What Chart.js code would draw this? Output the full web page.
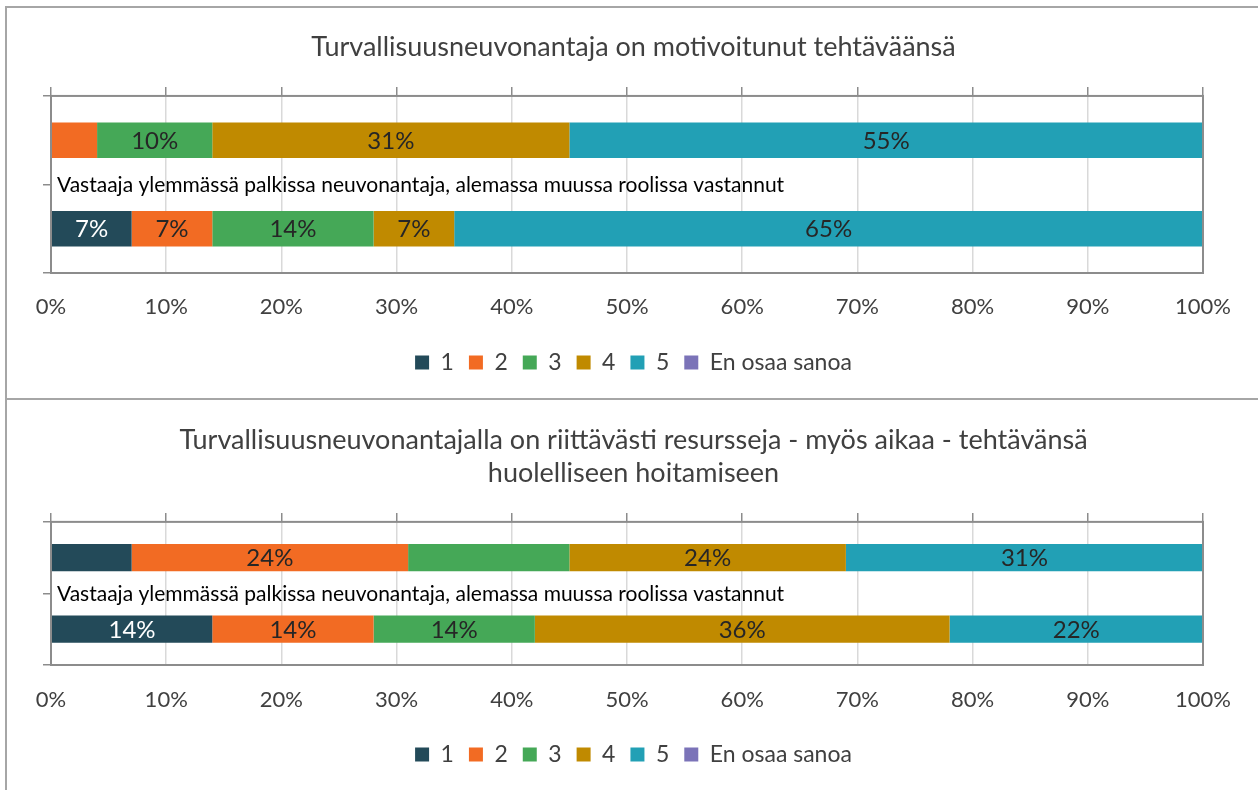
<!DOCTYPE html>
<html>
<head>
<meta charset="utf-8">
<script src="https://cdn.jsdelivr.net/npm/chart.js@4"></script>
<style>
  html, body { margin: 0; padding: 0; background: #fff; overflow: hidden; width: 1258px; height: 790px; }
  .frame { position: absolute; border-left: 2px solid #a6a6a6; border-top: 2px solid #a6a6a6; }
  canvas { position: absolute; left: 0; }
</style>
</head>
<body>
<div class="frame" style="left:5px; top:6px; width:1300px; height:392px;"></div>
<div class="frame" style="left:5px; top:398px; width:1300px; height:400px;"></div>
<canvas id="c1" width="1262" height="400" style="top:0px;"></canvas>
<canvas id="c2" width="1262" height="390" style="top:400px;"></canvas>
<script>
// ---- data ----
const categories = ['Neuvonantaja', 'Muussa roolissa'];
const seriesNames = ['1', '2', '3', '4', '5', 'En osaa sanoa'];
const tickLabels = ['0%', '10%', '20%', '30%', '40%', '50%', '60%', '70%', '80%', '90%', '100%'];
const noteText = 'Vastaaja ylemmässä palkissa neuvonantaja, alemassa muussa roolissa vastannut';

const title1 = 'Turvallisuusneuvonantaja on motivoitunut tehtäväänsä';
const chart1_s1 = [0, 7];
const chart1_s2 = [4, 7];
const chart1_s3 = [10, 14];
const chart1_s4 = [31, 7];
const chart1_s5 = [55, 65];
const chart1_eos = [0, 0];
const chart1_hiddenLabels = ['1:0'];

const title2 = ['Turvallisuusneuvonantajalla on riittävästi resursseja - myös aikaa - tehtävänsä', 'huolelliseen hoitamiseen'];
const chart2_s1 = [7, 14];
const chart2_s2 = [24, 14];
const chart2_s3 = [14, 14];
const chart2_s4 = [24, 36];
const chart2_s5 = [31, 22];
const chart2_eos = [0, 0];
const chart2_hiddenLabels = ['0:0', '2:0'];

// ---- style ----
const colors = ['#234A59', '#F26B23', '#45A857', '#C08A00', '#22A0B5', '#7B73B8'];
const FONT = 'Lato, Carlito, Calibri, "Open Sans", sans-serif';
const BORDER = '#8c8c8c';

const barLabels = {
  id: 'barLabels',
  afterDatasetsDraw(chart, args, opts) {
    const ctx = chart.ctx;
    const ca = chart.chartArea;
    ctx.save();
    // plot border
    ctx.strokeStyle = BORDER;
    ctx.lineWidth = 2;
    ctx.strokeRect(ca.left, ca.top, ca.right - ca.left, ca.bottom - ca.top);
    // value labels
    ctx.font = '24px ' + FONT;
    ctx.textAlign = 'center';
    ctx.textBaseline = 'middle';
    chart.data.datasets.forEach((ds, di) => {
      const meta = chart.getDatasetMeta(di);
      meta.data.forEach((bar, i) => {
        const v = ds.data[i];
        if (!v || opts.hidden.includes(di + ':' + i)) return;
        const p = bar.getProps(['x', 'y', 'base'], true);
        ctx.fillStyle = di === 0 ? '#ffffff' : '#262626';
        ctx.fillText(v + '%', (p.x + p.base) / 2, p.y + 1);
      });
    });
    // note between bars
    const ys = chart.scales.y;
    const yMid = (ys.getPixelForValue(0) + ys.getPixelForValue(1)) / 2;
    ctx.font = '21px ' + FONT;
    ctx.textAlign = 'left';
    ctx.fillStyle = '#000000';
    ctx.fillText(noteText, ca.left + 6, yMid + 1);
    ctx.restore();
  }
};

function makeChart(id, titleText, series, hidden, barPct, layoutCfg) {
  const datasets = series.map((data, i) => ({
    label: seriesNames[i],
    data: data,
    backgroundColor: colors[i],
    borderWidth: 0,
    xAxisID: 'x',
    yAxisID: 'y',
    barPercentage: barPct,
    categoryPercentage: 1.0
  }));
  return new Chart(document.getElementById(id), {
    type: 'bar',
    data: { labels: categories, datasets: datasets },
    plugins: [barLabels],
    options: {
      indexAxis: 'y',
      responsive: false,
      animation: false,
      devicePixelRatio: 1,
      layout: { padding: layoutCfg.padding },
      scales: {
        x: {
          type: 'linear', position: 'bottom', stacked: true, min: 0, max: 100,
          grid: { color: '#d9d9d9', lineWidth: 1.5, drawTicks: false },
          border: { display: false },
          ticks: {
            stepSize: 10, padding: layoutCfg.tickPad, color: '#404040',
            font: { family: FONT, size: 22 },
            callback: (v, idx) => tickLabels[idx]
          },
          afterFit: s => { s.height = layoutCfg.xHeight; }
        },
        x2: {
          type: 'linear', axis: 'x', position: 'top', min: 0, max: 100,
          grid: { color: BORDER, lineWidth: 1.5, drawOnChartArea: false, drawTicks: true, tickLength: 9 },
          border: { display: false },
          ticks: { stepSize: 10, display: false }
        },
        y: {
          type: 'category', position: 'left', stacked: true, offset: true,
          grid: { offset: true, color: BORDER, lineWidth: 1.5, drawOnChartArea: false, drawTicks: true, tickLength: 8 },
          border: { display: false },
          ticks: { display: false }
        },
        yR: {
          type: 'linear', axis: 'y', position: 'right',
          grid: { display: false }, border: { display: false },
          ticks: { display: false },
          afterFit: s => { s.width = 21; }
        }
      },
      plugins: {
        title: {
          display: true, text: titleText, color: '#404040',
          font: { family: FONT, size: 27, weight: 'normal', lineHeight: 1.22 },
          padding: layoutCfg.titlePad
        },
        legend: {
          position: 'bottom',
          labels: {
            boxWidth: 14, boxHeight: 14, padding: 15, color: '#404040',
            font: { family: FONT, size: 23 }
          }
        },
        tooltip: { enabled: false },
        barLabels: { hidden: hidden }
      }
    }
  });
}

makeChart('c1', title1,
  [chart1_s1, chart1_s2, chart1_s3, chart1_s4, chart1_s5, chart1_eos],
  chart1_hiddenLabels, 0.4,
  { padding: { top: 8, left: 43, right: 38, bottom: 16 }, titlePad: { top: 23, bottom: 23 }, tickPad: 21, xHeight: 63 });

makeChart('c2', title2,
  [chart2_s1, chart2_s2, chart2_s3, chart2_s4, chart2_s5, chart2_eos],
  chart2_hiddenLabels, 0.38,
  { padding: { top: 8, left: 43, right: 38, bottom: 14 }, titlePad: { top: 16, bottom: 23 }, tickPad: 22, xHeight: 63 });
</script>
</body>
</html>
